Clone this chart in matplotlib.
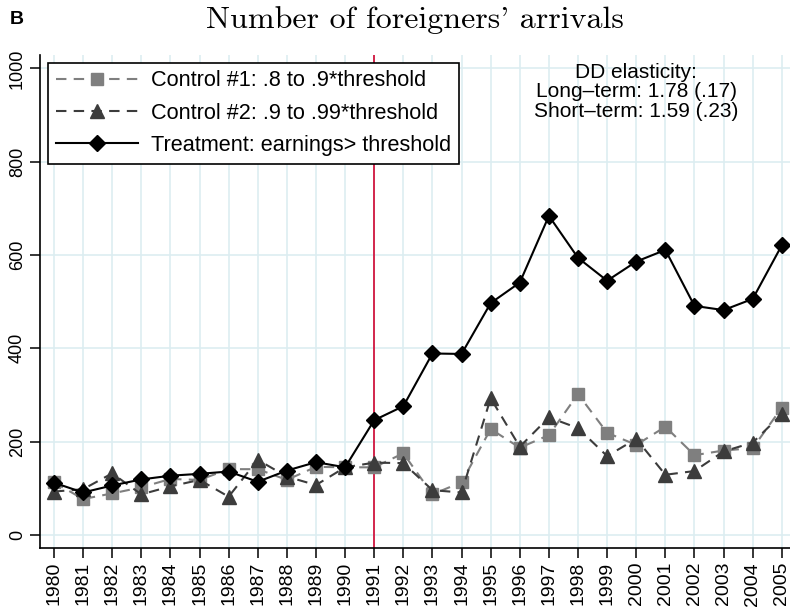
import matplotlib
matplotlib.use("Agg")
import matplotlib.pyplot as plt

plt.rcParams['font.family'] = ['Liberation Sans', 'DejaVu Sans']

# data
years = list(range(1980, 2006))
control1 = [113, 77, 89, 102, 120, 118, 141, 141, 118, 146, 145, 145,
            175, 87, 113, 227, 187, 214, 302, 219, 193, 232, 171, 181, 186, 273]
control2 = [93, 98, 132, 87, 104, 118, 82, 161, 125, 107, 145, 155,
            154, 96, 91, 293, 189, 252, 229, 169, 206, 129, 137, 179, 198, 259]
treatment = [112, 91, 106, 119, 127, 131, 136, 114, 138, 156, 145, 246,
             276, 389, 388, 497, 541, 684, 594, 545, 586, 611, 491, 482, 506, 621]

labels = ['Control #1: .8 to .9*threshold',
          'Control #2: .9 to .99*threshold',
          'Treatment: earnings> threshold']
yticks = [0, 200, 400, 600, 800, 1000]
policy_year = 1991
note = 'DD elasticity:\nLong\u2013term: 1.78 (.17)\nShort\u2013term: 1.59 (.23)'

fig = plt.figure(figsize=(7.9, 6.11), dpi=100)
ax = fig.add_axes([0.0506, 0.1031, 0.949, 0.807])

grid_col = '#ddedf1'
for y in years:
    ax.axvline(y, color=grid_col, lw=1.2, zorder=0)
for y in yticks:
    ax.axhline(y, color=grid_col, lw=1.2, zorder=0)
ax.axvline(policy_year, color='#d2163f', lw=1.3, zorder=1)

ax.plot(years, control1, color='#7f7f7f', lw=1.5, ls=(0, (5, 3.5)),
        marker='s', ms=8, mec='#7f7f7f', mfc='#7f7f7f', label=labels[0],
        zorder=3, clip_on=False)
ax.plot(years, control2, color='#3c3c3c', lw=1.5, ls=(0, (5, 3.5)),
        marker='^', ms=10, mec='#3c3c3c', mfc='#3c3c3c', label=labels[1],
        zorder=4, clip_on=False)
ax.plot(years, treatment, color='black', lw=1.5, ls='-',
        marker='D', ms=8, mec='black', mfc='black', label=labels[2],
        zorder=5, clip_on=False)

ax.set_xlim(1979.52, 2005.27)
ax.set_ylim(-28, 1029)
ax.set_xticks(years)
ax.set_xticklabels([str(y) for y in years], rotation=90, fontsize=14)
ax.set_yticks(yticks)
ax.set_yticklabels([str(y) for y in yticks], rotation=90, va='center', fontsize=13)
ax.tick_params(direction='out', length=7, width=1.1, color='black', pad=3)

for s in ['top', 'right']:
    ax.spines[s].set_visible(False)
for s in ['left', 'bottom']:
    ax.spines[s].set_linewidth(1.2)

leg = ax.legend(loc='upper left', bbox_to_anchor=(0.0107, 0.984), fontsize=15.6,
                handlelength=3.8, numpoints=1, fancybox=False, framealpha=1,
                edgecolor='black', borderpad=0.35, labelspacing=0.52,
                handletextpad=0.6, borderaxespad=0.0)
leg.get_frame().set_linewidth(1.2)

ax.text(2000.0, 950, note, ha='center', va='center', fontsize=15,
        multialignment='center', linespacing=1.05)

fig.text(0.525, 0.968, "Number of foreigners' arrivals", ha='center', va='center',
         fontsize=23, family='cmr10')
fig.text(0.012, 0.968, 'B', ha='left', va='center', fontsize=14, fontweight='bold')

fig.savefig('out.png', dpi=100)
